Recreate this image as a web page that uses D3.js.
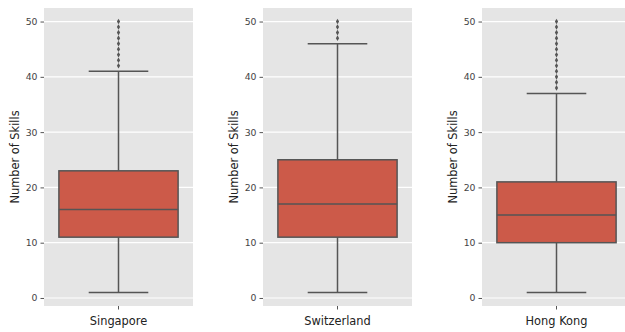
<!DOCTYPE html>
<html>
<head>
<meta charset="utf-8">
<script src="https://cdn.jsdelivr.net/npm/d3@7"></script>
<style>
  body { margin: 0; background: #fff; }
  text { font-family: "DejaVu Sans", sans-serif; }
</style>
</head>
<body>
<div id="chart"></div>
<script>
// Box stats
const countries = ["Singapore", "Switzerland", "Hong Kong"];
const lowWhisker = [1, 1, 1];
const q1 = [11, 11, 10];
const median = [16, 17, 15];
const q3 = [23, 25, 21];
const highWhisker = [41, 46, 37];
const outliers = [
  [42, 43, 44, 45, 46, 47, 48, 49, 50],
  [47, 48, 49, 50],
  [38, 39, 40, 41, 42, 43, 44, 45, 46, 47, 48, 49, 50]
];
const yTicks = [0, 10, 20, 30, 40, 50];

const width = 625, height = 332;
const panelLefts = [44, 263, 482];
const panelWidth = 149;
const plotTop = 8, plotBottom = 306;
const lineColor = "#555555";
const boxFill = "#cc5a49";

const svg = d3.select("#chart").append("svg")
  .attr("width", width)
  .attr("height", height);

const y = d3.scaleLinear().domain([-1.45, 52.45]).range([plotBottom, plotTop]);

countries.forEach((name, i) => {
  const x = d3.scaleBand()
    .domain([name])
    .range([panelLefts[i], panelLefts[i] + panelWidth])
    .paddingInner(0)
    .paddingOuter(0);
  const g = svg.append("g");

  // panel background
  g.append("rect")
    .attr("x", panelLefts[i]).attr("y", plotTop)
    .attr("width", panelWidth).attr("height", plotBottom - plotTop)
    .attr("fill", "#e5e5e5");

  // grid
  g.selectAll(".grid")
    .data(yTicks)
    .join("line")
    .attr("x1", panelLefts[i]).attr("x2", panelLefts[i] + panelWidth)
    .attr("y1", d => y(d)).attr("y2", d => y(d))
    .attr("stroke", "#fff").attr("stroke-width", 1.2);

  // y axis
  const yAxis = d3.axisLeft(y).tickValues(yTicks).tickSize(3.5).tickPadding(3);
  const ya = g.append("g")
    .attr("transform", `translate(${panelLefts[i]},0)`)
    .call(yAxis);
  ya.select(".domain").remove();
  ya.selectAll(".tick line").attr("stroke", lineColor).attr("stroke-width", 1);
  ya.selectAll(".tick text").attr("fill", "#444").style("font-size", "9.3px");

  // x axis
  const xAxis = d3.axisBottom(x).tickSize(3.5).tickPadding(7);
  const xa = g.append("g")
    .attr("transform", `translate(0,${plotBottom})`)
    .call(xAxis);
  xa.select(".domain").remove();
  xa.selectAll(".tick line").attr("stroke", lineColor);
  xa.selectAll(".tick text").attr("fill", "#222").style("font-size", "11.4px");

  // y label
  g.append("text")
    .attr("transform", `translate(${panelLefts[i] - 25},${(plotTop + plotBottom) / 2}) rotate(-90)`)
    .attr("text-anchor", "middle")
    .attr("fill", "#222")
    .style("font-size", "11.4px")
    .text("Number of Skills");

  const cx = x(name) + x.bandwidth() / 2;
  const boxW = x.bandwidth() * 0.8;
  const capW = boxW / 2;

  // whiskers
  g.append("line")
    .attr("x1", cx).attr("x2", cx)
    .attr("y1", y(q1[i])).attr("y2", y(lowWhisker[i]))
    .attr("stroke", lineColor).attr("stroke-width", 1.5);
  g.append("line")
    .attr("x1", cx).attr("x2", cx)
    .attr("y1", y(q3[i])).attr("y2", y(highWhisker[i]))
    .attr("stroke", lineColor).attr("stroke-width", 1.5);
  [lowWhisker[i], highWhisker[i]].forEach(v => {
    g.append("line")
      .attr("x1", cx - capW / 2).attr("x2", cx + capW / 2)
      .attr("y1", y(v)).attr("y2", y(v))
      .attr("stroke", lineColor).attr("stroke-width", 1.5);
  });

  // box
  g.append("rect")
    .attr("x", cx - boxW / 2).attr("width", boxW)
    .attr("y", y(q3[i])).attr("height", y(q1[i]) - y(q3[i]))
    .attr("fill", boxFill)
    .attr("stroke", lineColor).attr("stroke-width", 1.5);

  // median
  g.append("line")
    .attr("x1", cx - boxW / 2).attr("x2", cx + boxW / 2)
    .attr("y1", y(median[i])).attr("y2", y(median[i]))
    .attr("stroke", lineColor).attr("stroke-width", 1.5);

  // fliers
  g.selectAll(".flier")
    .data(outliers[i])
    .join("path")
    .attr("class", "flier")
    .attr("d", d3.symbol(d3.symbolDiamond, 9))
    .attr("transform", d => `translate(${cx},${y(d)})`)
    .attr("fill", lineColor);
});
</script>
</body>
</html>
